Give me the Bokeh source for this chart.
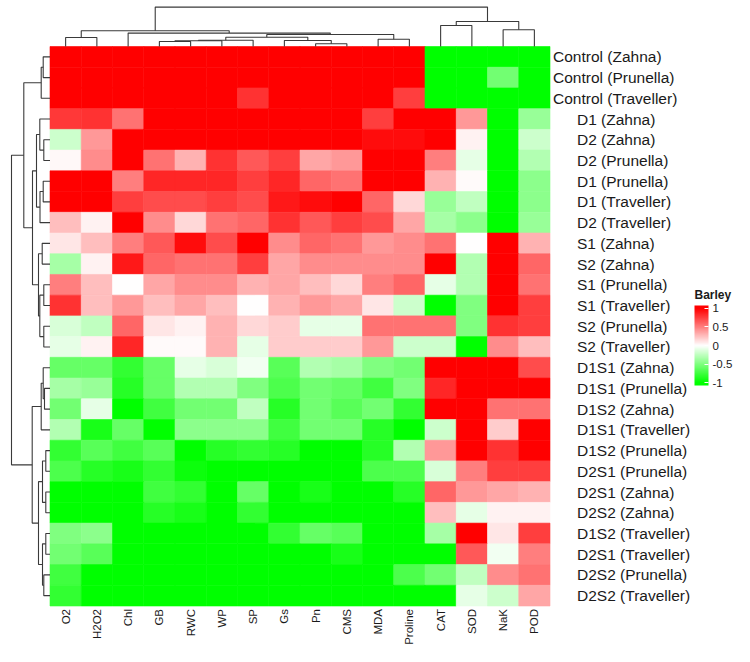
import math
from bokeh.plotting import figure
from bokeh.models import (ColumnDataSource, LinearColorMapper, ColorBar,
                          FixedTicker, Range1d, Label)
from bokeh.transform import transform
from bokeh.core.properties import value
from bokeh.embed import file_html
from bokeh.resources import INLINE

# ---------------- data ----------------
columns = ["O2", "H2O2", "Chl", "GB", "RWC", "WP", "SP", "Gs", "Pn", "CMS",
           "MDA", "Proline", "CAT", "SOD", "NaK", "POD"]

row_labels = ["Control (Zahna)", "Control (Prunella)", "Control (Traveller)",
              "D1 (Zahna)", "D2 (Zahna)", "D2 (Prunella)", "D1 (Prunella)",
              "D1 (Traveller)", "D2 (Traveller)", "S1 (Zahna)", "S2 (Zahna)",
              "S1 (Prunella)", "S1 (Traveller)", "S2 (Prunella)", "S2 (Traveller)",
              "D1S1 (Zahna)", "D1S1 (Prunella)", "D1S2 (Zahna)", "D1S1 (Traveller)",
              "D1S2 (Prunella)", "D2S1 (Prunella)", "D2S1 (Zahna)", "D2S2 (Zahna)",
              "D1S2 (Traveller)", "D2S1 (Traveller)", "D2S2 (Prunella)",
              "D2S2 (Traveller)"]

# scaled values, one list per row (same order as columns)
control_zahna      = [1, 1, 1, 1, 1, 1, 1, 1, 1, 1, 1, 1, -1, -1, -1, -1]
control_prunella   = [1, 1, 1, 1, 1, 1, 1, 1, 1, 1, 1, 1, -1, -1, -0.55, -1]
control_traveller  = [1, 1, 1, 1, 1, 1, 0.8, 1, 1, 1, 1, 0.75, -1, -1, -1, -1]
d1_zahna           = [0.78, 0.8, 0.55, 1, 1, 1, 1, 1, 1, 1, 0.75, 1, 1, 0.4, -1, -0.4]
d2_zahna           = [-0.2, 0.4, 1, 1, 1, 1, 1, 1, 1, 1, 0.95, 0.95, 1, 0.05, -1, -0.2]
d2_prunella        = [0.03, 0.45, 1, 0.55, 0.3, 0.8, 0.65, 0.75, 0.35, 0.4, 1, 1, 0.5, -0.1, -1, -0.3]
d1_prunella        = [1, 1, 0.5, 0.85, 0.85, 0.85, 0.75, 0.85, 0.6, 0.55, 1, 1, 0.3, 0.02, -1, -0.45]
d1_traveller       = [1, 1, 0.75, 0.7, 0.7, 0.75, 0.7, 0.9, 0.95, 1, 0.6, 0.15, -0.4, -0.25, -1, -0.45]
d2_traveller       = [0.25, 0.05, 1, 0.45, 0.15, 0.55, 0.6, 0.8, 0.65, 0.75, 0.7, 0.35, -0.35, -0.45, -1, -0.4]
s1_zahna           = [0.1, 0.25, 0.5, 0.65, 0.95, 0.7, 1, 0.45, 0.6, 0.55, 0.4, 0.45, 0.55, 0.0, 1, 0.3]
s2_zahna           = [-0.35, 0.05, 0.9, 0.6, 0.55, 0.55, 0.75, 0.35, 0.45, 0.45, 0.45, 0.45, 1, -0.3, 1, 0.6]
s1_prunella        = [0.5, 0.25, 0.0, 0.35, 0.45, 0.45, 0.3, 0.35, 0.25, 0.15, 0.5, 0.6, -0.1, -0.3, 1, 0.55]
s1_traveller       = [0.8, 0.25, 0.4, 0.25, 0.35, 0.25, 0.0, 0.3, 0.4, 0.35, 0.1, -0.2, -1, -0.5, 1, 0.75]
s2_prunella        = [-0.15, -0.25, 0.6, 0.1, 0.05, 0.3, 0.15, 0.2, -0.1, -0.1, 0.55, 0.55, 0.55, -0.5, 0.8, 0.75]
s2_traveller       = [-0.1, 0.05, 0.85, 0.02, 0.02, 0.3, -0.1, 0.2, 0.2, 0.2, 0.4, -0.2, -0.2, -1, 0.45, 0.25]
d1s1_zahna         = [-0.6, -0.6, -0.8, -0.6, -0.1, -0.15, -0.05, -0.65, -0.3, -0.35, -0.5, -0.55, 1, 1, 1, 0.7]
d1s1_prunella      = [-0.35, -0.4, -0.85, -0.6, -0.3, -0.3, -0.5, -0.7, -0.55, -0.6, -0.75, -0.5, 0.85, 1, 1, 1]
d1s2_zahna         = [-0.55, -0.1, -1, -0.75, -0.55, -0.55, -0.25, -0.85, -0.55, -0.65, -0.55, -0.8, 1, 1, 0.55, 0.55]
d1s1_traveller     = [-0.3, -0.9, -0.6, -1, -0.45, -0.45, -0.45, -0.75, -0.55, -0.55, -0.85, -1, -0.2, 1, 0.2, 1]
d1s2_prunella      = [-0.8, -0.65, -0.75, -0.65, -1, -0.85, -0.8, -0.85, -1, -1, -0.85, -0.3, 0.4, 1, 0.8, 1]
d2s1_prunella      = [-0.7, -0.85, -0.9, -0.8, -0.95, -1, -1, -1, -1, -1, -0.7, -0.7, -0.15, 0.5, 0.75, 0.75]
d2s1_zahna         = [-1, -1, -1, -0.75, -0.8, -1, -0.6, -1, -0.9, -1, -1, -0.85, 0.6, 0.4, 0.35, 0.3]
d2s2_zahna         = [-1, -1, -1, -0.85, -0.9, -1, -0.8, -1, -1, -1, -1, -1, 0.25, -0.1, 0.05, 0.05]
d1s2_traveller     = [-0.5, -0.45, -1, -1, -1, -1, -1, -0.8, -0.6, -0.65, -1, -1, -0.35, 1, 0.1, 0.75]
d2s1_traveller     = [-0.55, -0.65, -1, -1, -1, -1, -1, -1, -1, -0.9, -1, -1, -1, 0.65, -0.05, 0.5]
d2s2_prunella      = [-0.75, -1, -1, -1, -1, -1, -1, -1, -1, -1, -1, -0.7, -0.55, -0.25, 0.45, 0.55]
d2s2_traveller     = [-0.8, -1, -1, -1, -1, -1, -1, -1, -1, -1, -1, -1, -1, -0.1, -0.2, 0.35]

row_values = [control_zahna, control_prunella, control_traveller, d1_zahna,
              d2_zahna, d2_prunella, d1_prunella, d1_traveller, d2_traveller,
              s1_zahna, s2_zahna, s1_prunella, s1_traveller, s2_prunella,
              s2_traveller, d1s1_zahna, d1s1_prunella, d1s2_zahna,
              d1s1_traveller, d1s2_prunella, d2s1_prunella, d2s1_zahna,
              d2s2_zahna, d1s2_traveller, d2s1_traveller, d2s2_prunella,
              d2s2_traveller]

# hierarchical clustering merges: (child, child, height); int = earlier merge
col_merges = [
    ("O2", "H2O2", 9.0),          # 0
    ("GB", "RWC", 5.0),           # 1
    (1, "WP", 5.8),               # 2
    (2, "SP", 6.2),               # 3
    ("Pn", "CMS", 2.7),           # 4
    ("Gs", 4, 6.0),               # 5
    (3, 5, 9.2),                  # 6
    ("MDA", "Proline", 7.2),      # 7
    (6, 7, 12.0),                 # 8
    ("Chl", 8, 13.4),             # 9
    (0, 9, 15.7),                 # 10
    ("CAT", "SOD", 21.0),         # 11
    ("NaK", "POD", 16.7),         # 12
    (11, 12, 25.0),               # 13
    (10, 13, 39.4),               # 14
]

row_merges = [
    ("Control (Zahna)", "Control (Prunella)", 6.8),   # 0
    (0, "Control (Traveller)", 8.8),                  # 1
    ("D2 (Zahna)", "D2 (Prunella)", 6.2),             # 2
    ("D1 (Zahna)", 2, 10.2),                          # 3
    ("D1 (Prunella)", "D1 (Traveller)", 6.8),         # 4
    (4, "D2 (Traveller)", 10.0),                      # 5
    (3, 5, 13.5),                                     # 6
    ("S1 (Zahna)", "S2 (Zahna)", 7.8),                # 7
    ("S1 (Prunella)", "S1 (Traveller)", 6.2),         # 8
    ("S2 (Prunella)", "S2 (Traveller)", 6.2),         # 9
    (8, 9, 10.2),                                     # 10
    (7, 10, 11.5),                                    # 11
    (6, 11, 17.5),                                    # 12
    (1, 12, 26.2),                                    # 13
    ("D1S1 (Prunella)", "D1S2 (Zahna)", 5.5),         # 14
    ("D1S1 (Zahna)", 14, 6.8),                        # 15
    (15, "D1S1 (Traveller)", 8.8),                    # 16
    ("D1S2 (Prunella)", "D2S1 (Prunella)", 4.2),      # 17
    ("D2S1 (Zahna)", "D2S2 (Zahna)", 4.2),            # 18
    (17, 18, 7.5),                                    # 19
    ("D1S2 (Traveller)", "D2S1 (Traveller)", 4.2),    # 20
    ("D2S2 (Prunella)", "D2S2 (Traveller)", 6.2),     # 21
    (20, 21, 7.5),                                    # 22
    (19, 22, 11.5),                                   # 23
    (16, 23, 17.8),                                   # 24
    (13, 24, 38.5),                                   # 25
]

legend_title = "Barley"
legend_ticks = [-1, -0.5, 0, 0.5, 1]

# ---------------- layout (pixels) ----------------
W, H = 734, 646
HM_LEFT, HM_RIGHT, HM_TOP, HM_BOTTOM = 49.5, 549.5, 46.0, 605.5
ncol, nrow = len(columns), len(row_labels)
pxx = (HM_RIGHT - HM_LEFT) / ncol
pxy = (HM_BOTTOM - HM_TOP) / nrow
FONT = "Liberation Sans"
TXT = "#1a1a1a"

p = figure(width=W, height=H, output_backend="svg", toolbar_location=None,
           x_range=Range1d(-HM_LEFT / pxx, ncol + (W - HM_RIGHT) / pxx),
           y_range=Range1d(-(H - HM_BOTTOM) / pxy, nrow + HM_TOP / pxy),
           x_axis_location=None, y_axis_location=None, min_border=0,
           title=None)
p.grid.visible = False
p.outline_line_color = None
p.background_fill_color = "white"
p.border_fill_color = "white"


def ramp(v):
    v = max(-1.0, min(1.0, v))
    if v < 0:
        t = v + 1
        r, g, b = 255 * t, 255, 255 * t
    else:
        r, g, b = 255, 255 * (1 - v), 255 * (1 - v)
    return "#%02x%02x%02x" % (round(r), round(g), round(b))


N = 256
palette = [ramp(-1 + 2 * i / (N - 1)) for i in range(N)]
mapper = LinearColorMapper(palette=palette, low=-1, high=1)

xs, ys, vs = [], [], []
for i, vals in enumerate(row_values):
    for j, v in enumerate(vals):
        xs.append(j + 0.5)
        ys.append(nrow - 0.5 - i)
        vs.append(v)
src = ColumnDataSource(dict(x=xs, y=ys, v=vs))
p.rect(x="x", y="y", width=1, height=1, source=src,
       fill_color=transform("v", mapper), line_color=transform("v", mapper),
       line_width=0.6)


# ---------------- dendrograms ----------------
def dendro(merges, leaves):
    pos = {name: k + 0.5 for k, name in enumerate(leaves)}
    hgt = {name: 0.0 for name in leaves}
    segs = []
    for k, (a, b, h) in enumerate(merges):
        pa, pb = pos[a], pos[b]
        segs.append(([pa, pa, pb, pb], [hgt[a], h, h, hgt[b]]))
        pos[k] = (pa + pb) / 2
        hgt[k] = h
    return segs


col_segs = dendro(col_merges, columns)
p.multi_line(xs=[s[0] for s in col_segs],
             ys=[[nrow + h / pxy for h in s[1]] for s in col_segs],
             line_color="#3a3a3a", line_width=1.1)

row_segs = dendro(row_merges, row_labels)
p.multi_line(xs=[[-h / pxx for h in s[1]] for s in row_segs],
             ys=[[nrow - q for q in s[0]] for s in row_segs],
             line_color="#3a3a3a", line_width=1.1)

# ---------------- labels ----------------
row_src = ColumnDataSource(dict(
    x=[ncol] * nrow, y=[nrow - 0.5 - i for i in range(nrow)],
    t=row_labels,
    off=[3 if lab.startswith("Control") else 27 for lab in row_labels]))
p.text(x="x", y="y", text="t", x_offset="off", source=row_src,
       text_font=value(FONT), text_font_size="15.5px", text_color=TXT,
       text_align="left", text_baseline="middle")

col_src = ColumnDataSource(dict(x=[j + 0.5 for j in range(ncol)],
                                y=[0] * ncol, t=columns))
p.text(x="x", y="y", text="t", source=col_src, angle=math.pi / 2,
       y_offset=3, text_font=value(FONT), text_font_size="11.5px",
       text_color=TXT, text_align="right", text_baseline="middle")

# ---------------- legend ----------------
BAR_X, BAR_TOP, BAR_H, BAR_W = 694, 305, 80, 14
cb_lo, cb_hi = -1.08, 1.08
cb_palette = [ramp(cb_lo + (cb_hi - cb_lo) * i / (N - 1)) for i in range(N)]
cb_mapper = LinearColorMapper(palette=cb_palette, low=cb_lo, high=cb_hi)
cb = ColorBar(color_mapper=cb_mapper, ticker=FixedTicker(ticks=legend_ticks),
              major_label_overrides={t: ("%g" % t) for t in legend_ticks},
              width=BAR_W, height=BAR_H, padding=0,
              major_label_text_font=FONT, major_label_text_font_size="11.5px",
              major_label_text_color=TXT,
              major_tick_line_color="white", major_tick_in=4, major_tick_out=0,
              minor_tick_line_color=None, bar_line_color=None,
              border_line_color=None, background_fill_alpha=0,
              label_standoff=4, location=(BAR_X, H - (BAR_TOP + BAR_H)))
p.add_layout(cb, "center")

title = Label(x=BAR_X, y=H - (BAR_TOP - 11), x_units="screen", y_units="screen",
              text=legend_title, text_font=FONT, text_font_style="bold",
              text_font_size="12px", text_color=TXT, text_baseline="middle",
              text_align="left")
p.add_layout(title)

open("out.html", "w").write(file_html(p, INLINE))
